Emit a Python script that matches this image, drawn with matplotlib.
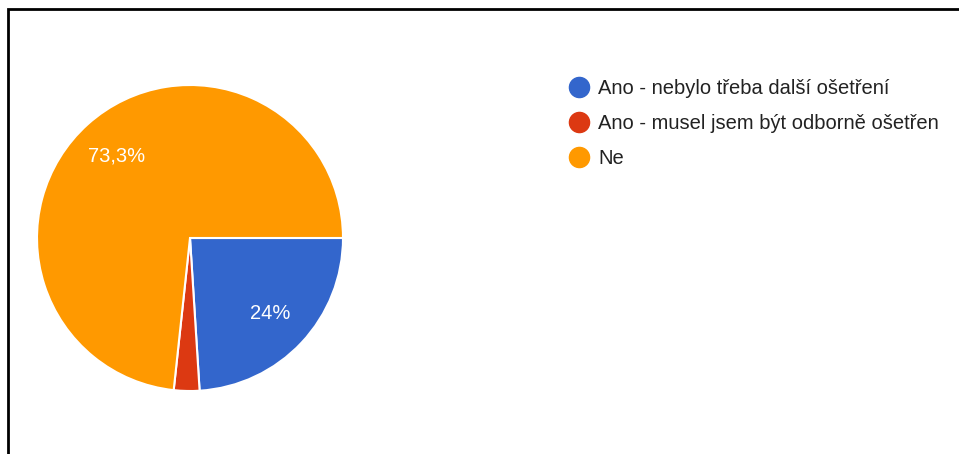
import matplotlib.pyplot as plt
from matplotlib.lines import Line2D

plt.rcParams['font.family'] = ['Liberation Sans', 'DejaVu Sans']

# survey answers and their shares (%)
labels = ["Ano - nebylo třeba další ošetření",
          "Ano - musel jsem být odborně ošetřen",
          "Ne"]
shares = [24.0, 2.7, 73.3]
colors = ["#3366cc", "#dc3912", "#ff9900"]

W, H = 959, 454
fig = plt.figure(figsize=(W / 100, H / 100), dpi=100)
ax = fig.add_axes([0, 0, 1, 1])


def pct_label(p):
    # small slices stay unlabeled, decimals use a comma
    if p < 5:
        return ""
    s = f"{p:.1f}".rstrip("0").rstrip(".")
    return s.replace(".", ",") + "%"


wedges, texts, autotexts = ax.pie(
    shares, colors=colors, startangle=0, counterclock=False,
    center=(190, H - 238), radius=153,
    autopct=pct_label, pctdistance=0.72,
    wedgeprops=dict(edgecolor="white", linewidth=1.5),
    textprops=dict(color="white", fontsize=14.5),
)

ax.set_xlim(0, W)
ax.set_ylim(0, H)
ax.set_aspect("auto")
ax.axis("off")

# frame on the left and top edges
ax.plot([8, 8, W], [0, H - 9, H - 9], color="black", lw=2, solid_joinstyle="miter")

handles = [Line2D([], [], marker="o", linestyle="none", markersize=14.5,
                  markerfacecolor=c, markeredgecolor=c) for c in colors]
ax.legend(handles, labels, loc="upper left", bbox_to_anchor=(568 / W, 1 - 79 / H),
          frameon=False, fontsize=14.5, handletextpad=0.4, labelspacing=0.8,
          handlelength=1.1, borderpad=0, borderaxespad=0, labelcolor="#222222")

fig.savefig("out.png", dpi=100)
